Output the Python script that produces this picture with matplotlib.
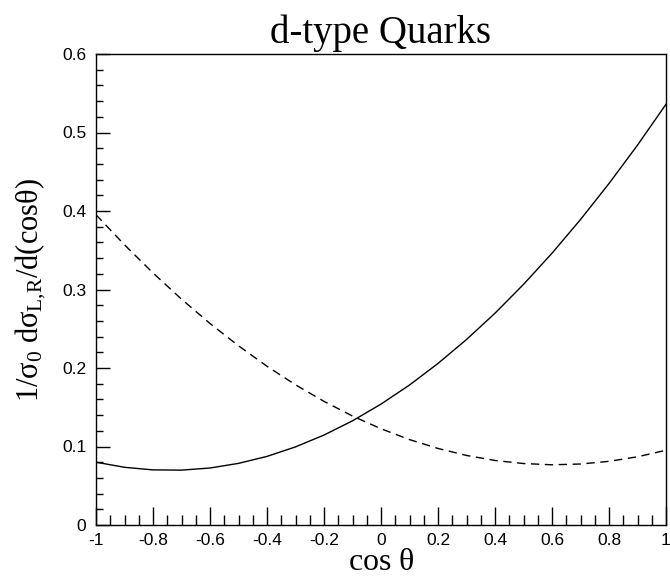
import matplotlib.pyplot as plt
from matplotlib.ticker import MultipleLocator

plt.rcParams['mathtext.fontset'] = 'custom'
plt.rcParams['mathtext.rm'] = 'Liberation Serif'
plt.rcParams['mathtext.it'] = 'Liberation Serif'

# values
cos_theta = [-1.0, -0.9, -0.8, -0.7, -0.6, -0.5, -0.4, -0.3, -0.2, -0.1, 0.0,
             0.1, 0.2, 0.3, 0.4, 0.5, 0.6, 0.7, 0.8, 0.9, 1.0]
solid = [0.080, 0.0735, 0.0702, 0.0699, 0.0726, 0.0785, 0.0874, 0.0995, 0.1146, 0.1327, 0.154,
         0.1783, 0.2058, 0.2363, 0.2698, 0.3065, 0.3462, 0.3891, 0.4350, 0.4839, 0.536]
dashed = [0.3952, 0.3569, 0.3211, 0.2877, 0.2567, 0.2283, 0.2022, 0.1786, 0.1575, 0.1388, 0.1226,
          0.1088, 0.0975, 0.0886, 0.0822, 0.0783, 0.0767, 0.0777, 0.0811, 0.0869, 0.0952]
x_ticks = [-1, -0.8, -0.6, -0.4, -0.2, 0, 0.2, 0.4, 0.6, 0.8, 1]
x_labels = ["-1", "-0.8", "-0.6", "-0.4", "-0.2", "0", "0.2", "0.4", "0.6", "0.8", "1"]
y_ticks = [0, 0.1, 0.2, 0.3, 0.4, 0.5, 0.6]
y_labels = ["0", "0.1", "0.2", "0.3", "0.4", "0.5", "0.6"]

fig = plt.figure(figsize=(6.7, 5.82), dpi=100)
ax = fig.add_axes([96/670, 1 - 525/582, 570/670, 471/582])

ax.plot(cos_theta, solid, color="black", lw=1.0)
ax.plot(cos_theta, dashed, color="black", lw=1.0, dashes=(6, 4))

ax.set_xlim(-1, 1)
ax.set_ylim(0, 0.6)
ax.set_xticks(x_ticks)
ax.set_xticklabels(x_labels, family="Liberation Sans", fontsize=12.5)
ax.set_yticks(y_ticks)
ax.set_yticklabels(y_labels, family="Liberation Sans", fontsize=12.5)
ax.xaxis.set_minor_locator(MultipleLocator(0.05))
ax.yaxis.set_minor_locator(MultipleLocator(0.02))
ax.tick_params(which="both", direction="in", top=False, right=False, color="black", width=1.0)
ax.tick_params(axis="x", which="major", length=13, pad=6)
ax.tick_params(axis="x", which="minor", length=7)
ax.tick_params(axis="y", which="major", length=10, pad=7)
ax.tick_params(axis="y", which="minor", length=5)
for s in ax.spines.values():
    s.set_linewidth(1.0)

ax.set_title("d-type Quarks", family="Liberation Serif", fontsize=28, pad=8)
ax.set_xlabel(r"cos $\theta$", family="Liberation Serif", fontsize=23, labelpad=0)
ax.set_ylabel(r"1/$\sigma_0$ d$\sigma_{\mathrm{L{,}R}}$/d(cos$\theta$)", family="Liberation Serif",
              fontsize=22, labelpad=10)

fig.savefig("out.png", dpi=100)
